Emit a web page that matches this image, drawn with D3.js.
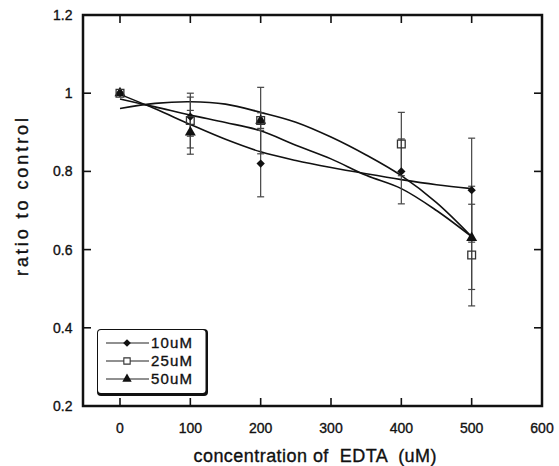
<!DOCTYPE html>
<html><head><meta charset="utf-8">
<script src="https://cdn.jsdelivr.net/npm/d3@7"></script>
<style>
html,body{margin:0;padding:0;background:#fff;}
svg{display:block;}
text{font-family:"Liberation Sans",Arial,sans-serif;fill:#111;stroke:#111;stroke-width:0.35px;}
</style></head>
<body>
<svg id="chart" width="559" height="466"></svg>
<script>
// ---- data ----
const concentrations = [0, 100, 200, 400, 500];
const series10 = [1.0, 0.94, 0.82, 0.80, 0.752];
const err10    = [0, 0.05, 0.085, 0.083, 0.133];
const series25 = [1.0, 0.93, 0.93, 0.87, 0.586];
const err25    = [0, 0.07, 0.085, 0.081, 0.13];
const series50 = [1.0, 0.90, 0.93, null, 0.63];
const err50    = [0, 0.056, 0.02, null, 0.132];
// fitted curves
const fitX   = [0, 50, 100, 150, 200, 250, 300, 350, 400, 450, 500];
const fit10  = [0.997, 0.960, 0.920, 0.882, 0.850, 0.828, 0.810, 0.794, 0.779, 0.766, 0.756];
const fit25  = [0.961, 0.974, 0.978, 0.972, 0.951, 0.926, 0.888, 0.842, 0.789, 0.720, 0.633];
const fit50  = [0.985, 0.965, 0.944, 0.925, 0.904, 0.867, 0.832, 0.790, 0.756, 0.700, 0.633];
const xTicks = [0, 100, 200, 300, 400, 500, 600];
const yTicks = [0.2, 0.4, 0.6, 0.8, 1, 1.2];
const legendLabels = ["10uM", "25uM", "50uM"];
const xTitle = "concentration of  EDTA  (uM)";
const yTitle = "ratio to control";

const svg = d3.select("#chart");
const L = 83, R = 542, T = 15, B = 406;
const x = d3.scaleLinear().domain([-52.6, 600]).range([L, R]);
const y = d3.scaleLinear().domain([0.2, 1.2]).range([B, T]);

// frame
svg.append("rect").attr("x", L).attr("y", T).attr("width", R - L).attr("height", B - T)
  .attr("fill", "none").attr("stroke", "#111").attr("stroke-width", 2.5);

// ticks (inward on all four sides)
const tickLen = 8;
const g = svg.append("g").attr("stroke", "#111").attr("stroke-width", 1.6);
xTicks.forEach(v => {
  g.append("line").attr("x1", x(v)).attr("x2", x(v)).attr("y1", B).attr("y2", B - tickLen);
  g.append("line").attr("x1", x(v)).attr("x2", x(v)).attr("y1", T).attr("y2", T + tickLen);
});
yTicks.forEach(v => {
  g.append("line").attr("x1", L).attr("x2", L + tickLen).attr("y1", y(v)).attr("y2", y(v));
  g.append("line").attr("x1", R).attr("x2", R - tickLen).attr("y1", y(v)).attr("y2", y(v));
});

// tick labels
const fmtY = d => (d === 1 ? "1" : d3.format(".1f")(d));
svg.append("g").selectAll("text").data(xTicks).join("text")
  .attr("x", d => x(d)).attr("y", 433).attr("text-anchor", "middle")
  .attr("font-size", 14).text(d => d);
svg.append("g").selectAll("text").data(yTicks).join("text")
  .attr("x", 72.5).attr("y", d => y(d) + 5).attr("text-anchor", "end")
  .attr("font-size", 14).text(fmtY);

// axis titles
svg.append("text").attr("x", 315).attr("y", 462).attr("text-anchor", "middle")
  .attr("font-size", 18).attr("textLength", 243).attr("lengthAdjust", "spacing")
  .style("white-space", "pre").text(xTitle);
svg.append("text").attr("transform", "translate(28,197) rotate(-90)")
  .attr("text-anchor", "middle").attr("font-size", 18)
  .attr("textLength", 158).attr("lengthAdjust", "spacing").text(yTitle);

// fitted curves
const line = d3.line().x(d => x(d[0])).y(d => y(d[1])).curve(d3.curveCatmullRom);
[fit10, fit25, fit50].forEach(f => {
  svg.append("path").datum(fitX.map((v, i) => [v, f[i]]))
    .attr("d", line).attr("fill", "none").attr("stroke", "#111").attr("stroke-width", 1.6);
});

// error bars
const eg = svg.append("g").attr("stroke", "#444").attr("stroke-width", 1.2);
[[series10, err10], [series25, err25], [series50, err50]].forEach(([s, e]) => {
  concentrations.forEach((c, i) => {
    if (s[i] == null || !e[i]) return;
    const cx = x(c), y1 = y(s[i] + e[i]), y2 = y(s[i] - e[i]);
    eg.append("line").attr("x1", cx).attr("x2", cx).attr("y1", y1).attr("y2", y2);
    eg.append("line").attr("x1", cx - 3.5).attr("x2", cx + 3.5).attr("y1", y1).attr("y2", y1);
    eg.append("line").attr("x1", cx - 3.5).attr("x2", cx + 3.5).attr("y1", y2).attr("y2", y2);
  });
});

// markers
const sym = {
  diamond: d3.symbol().type(d3.symbolDiamond2 || d3.symbolDiamond).size(44),
  square: d3.symbol().type(d3.symbolSquare).size(60),
  triangle: d3.symbol().type(d3.symbolTriangle).size(52)
};
function drawMarkers(s, kind) {
  concentrations.forEach((c, i) => {
    if (s[i] == null) return;
    const p = svg.append("path").attr("transform", `translate(${x(c)},${y(s[i])})`)
      .attr("d", sym[kind]());
    if (kind === "square") p.attr("fill", "none").attr("stroke", "#333").attr("stroke-width", 1.3);
    else p.attr("fill", "#111");
  });
}
drawMarkers(series50, "triangle");
drawMarkers(series10, "diamond");
drawMarkers(series25, "square");

// legend
const lg = svg.append("g");
lg.append("rect").attr("x", 97).attr("y", 329).attr("width", 111).attr("height", 67).attr("rx", 4).attr("fill", "#111");
lg.append("rect").attr("x", 98).attr("y", 330).attr("width", 107.5).attr("height", 63).attr("rx", 3).attr("fill", "#fff");
const rowsY = [343, 361, 379];
const kinds = ["diamond", "square", "triangle"];
legendLabels.forEach((lab, i) => {
  const ry = rowsY[i];
  lg.append("line").attr("x1", 106).attr("x2", 149).attr("y1", ry).attr("y2", ry)
    .attr("stroke", "#222").attr("stroke-width", 1.1);
  const p = lg.append("path").attr("transform", `translate(127,${ry})`)
    .attr("d", d3.symbol().type(kinds[i] === "diamond" ? (d3.symbolDiamond2 || d3.symbolDiamond) : kinds[i] === "square" ? d3.symbolSquare : d3.symbolTriangle)
      .size(kinds[i] === "square" ? 40 : 38)());
  if (kinds[i] === "square") p.attr("fill", "#fff").attr("stroke", "#333").attr("stroke-width", 1.1);
  else p.attr("fill", "#111");
  lg.append("text").attr("x", 151).attr("y", ry + 5).attr("font-size", 15)
    .attr("textLength", 41).attr("lengthAdjust", "spacing").text(lab);
});
</script>
</body></html>
